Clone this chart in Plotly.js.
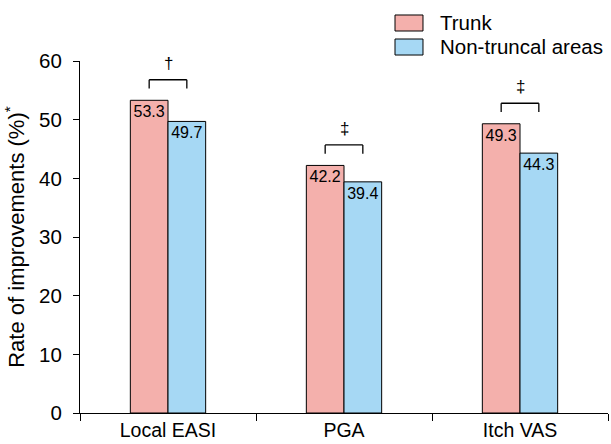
<!DOCTYPE html>
<html>
<head>
<meta charset="utf-8">
<script src="https://cdn.plot.ly/plotly-3.0.1.min.js"></script>
<style>html,body{margin:0;padding:0;background:#fff;}#chart{width:611px;height:444px;}</style>
</head>
<body>
<div id="chart"></div>
<script>
const categories = ['Local EASI', 'PGA', 'Itch VAS'];
const seriesNames = ['Trunk', 'Non-truncal areas'];
const trunkValues = [53.3, 42.2, 49.3];
const nonTruncalValues = [49.7, 39.4, 44.3];
const sigSymbols = ['\u2020', '\u2021', '\u2021'];
const yTickVals = [0, 10, 20, 30, 40, 50, 60];

const colors = ['#F4B0AC', '#A6D8F4'];
const FONT = 'Liberation Sans, Arial, sans-serif';

const fmt = v => v.toFixed(1);
const traces = [trunkValues, nonTruncalValues].map((vals, i) => ({
  type: 'bar',
  name: seriesNames[i],
  x: categories,
  y: vals,
  text: vals.map(fmt),
  textposition: 'inside',
  insidetextanchor: 'end',
  constraintext: 'none',
  textangle: 0,
  insidetextfont: {family: FONT, size: 16, color: '#000'},
  marker: {color: colors[i], line: {color: '#000', width: 1}},
  hoverinfo: 'skip',
  showlegend: false
}));

const bargap = 0.572;
const half = (1 - bargap) / 4;
const shapes = [];
const annotations = [];
categories.forEach((c, i) => {
  const top = Math.max(trunkValues[i], nonTruncalValues[i]) + 3.5;
  const leg = top - 1.5;
  const xl = i - half, xr = i + half;
  const line = {color: '#000', width: 1.3};
  shapes.push({type: 'line', xref: 'x', yref: 'y', x0: xl, x1: xr, y0: top, y1: top, line});
  shapes.push({type: 'line', xref: 'x', yref: 'y', x0: xl, x1: xl, y0: top, y1: leg, line});
  shapes.push({type: 'line', xref: 'x', yref: 'y', x0: xr, x1: xr, y0: top, y1: leg, line});
  annotations.push({
    xref: 'x', yref: 'y', x: i, y: top + 2.8, text: sigSymbols[i], showarrow: false,
    font: {family: FONT, size: 17, color: '#000'}, xanchor: 'center', yanchor: 'middle'
  });
});

const legY = [[1.1307, 1.0852], [1.0625, 1.017]];
const legTextY = [1.108, 1.0398];
seriesNames.forEach((n, i) => {
  shapes.push({type: 'rect', xref: 'paper', yref: 'paper', x0: 0.5966, x1: 0.6496,
    y0: legY[i][1], y1: legY[i][0], fillcolor: colors[i], line: {color: '#000', width: 1}});
  annotations.push({xref: 'paper', yref: 'paper', x: 0.6780, y: legTextY[i], text: n,
    showarrow: false, xanchor: 'left', yanchor: 'middle',
    font: {family: FONT, size: 20.5, color: '#000'}});
});

const layout = {
  width: 611, height: 444,
  margin: {l: 80, r: 3, t: 61, b: 31, pad: 0},
  paper_bgcolor: '#fff', plot_bgcolor: '#fff',
  barmode: 'group', bargap: bargap, bargroupgap: 0,
  font: {family: FONT, color: '#000'},
  xaxis: {
    type: 'category', range: [-0.5, 2.5], tickson: 'boundaries',
    showline: true, linecolor: '#000', linewidth: 1,
    ticks: 'outside', ticklen: 7, tickwidth: 1, tickcolor: '#000',
    showgrid: false, zeroline: false,
    tickfont: {family: FONT, size: 19.5, color: '#000'}
  },
  yaxis: {
    range: [0, 60], tickvals: yTickVals, ticktext: yTickVals.map(String),
    showline: true, linecolor: '#000', linewidth: 1,
    ticks: 'outside', ticklen: 6, tickwidth: 1, tickcolor: '#000',
    ticklabelstandoff: 7,
    showgrid: false, zeroline: false,
    tickfont: {family: FONT, size: 20.5, color: '#000'},
    title: {text: 'Rate of improvements (%)<sup>*</sup>', font: {family: FONT, size: 22, color: '#000'}, standoff: 8}
  },
  shapes, annotations,
  showlegend: false
};

Plotly.newPlot('chart', traces, layout, {staticPlot: true, displayModeBar: false});
</script>
</body>
</html>
